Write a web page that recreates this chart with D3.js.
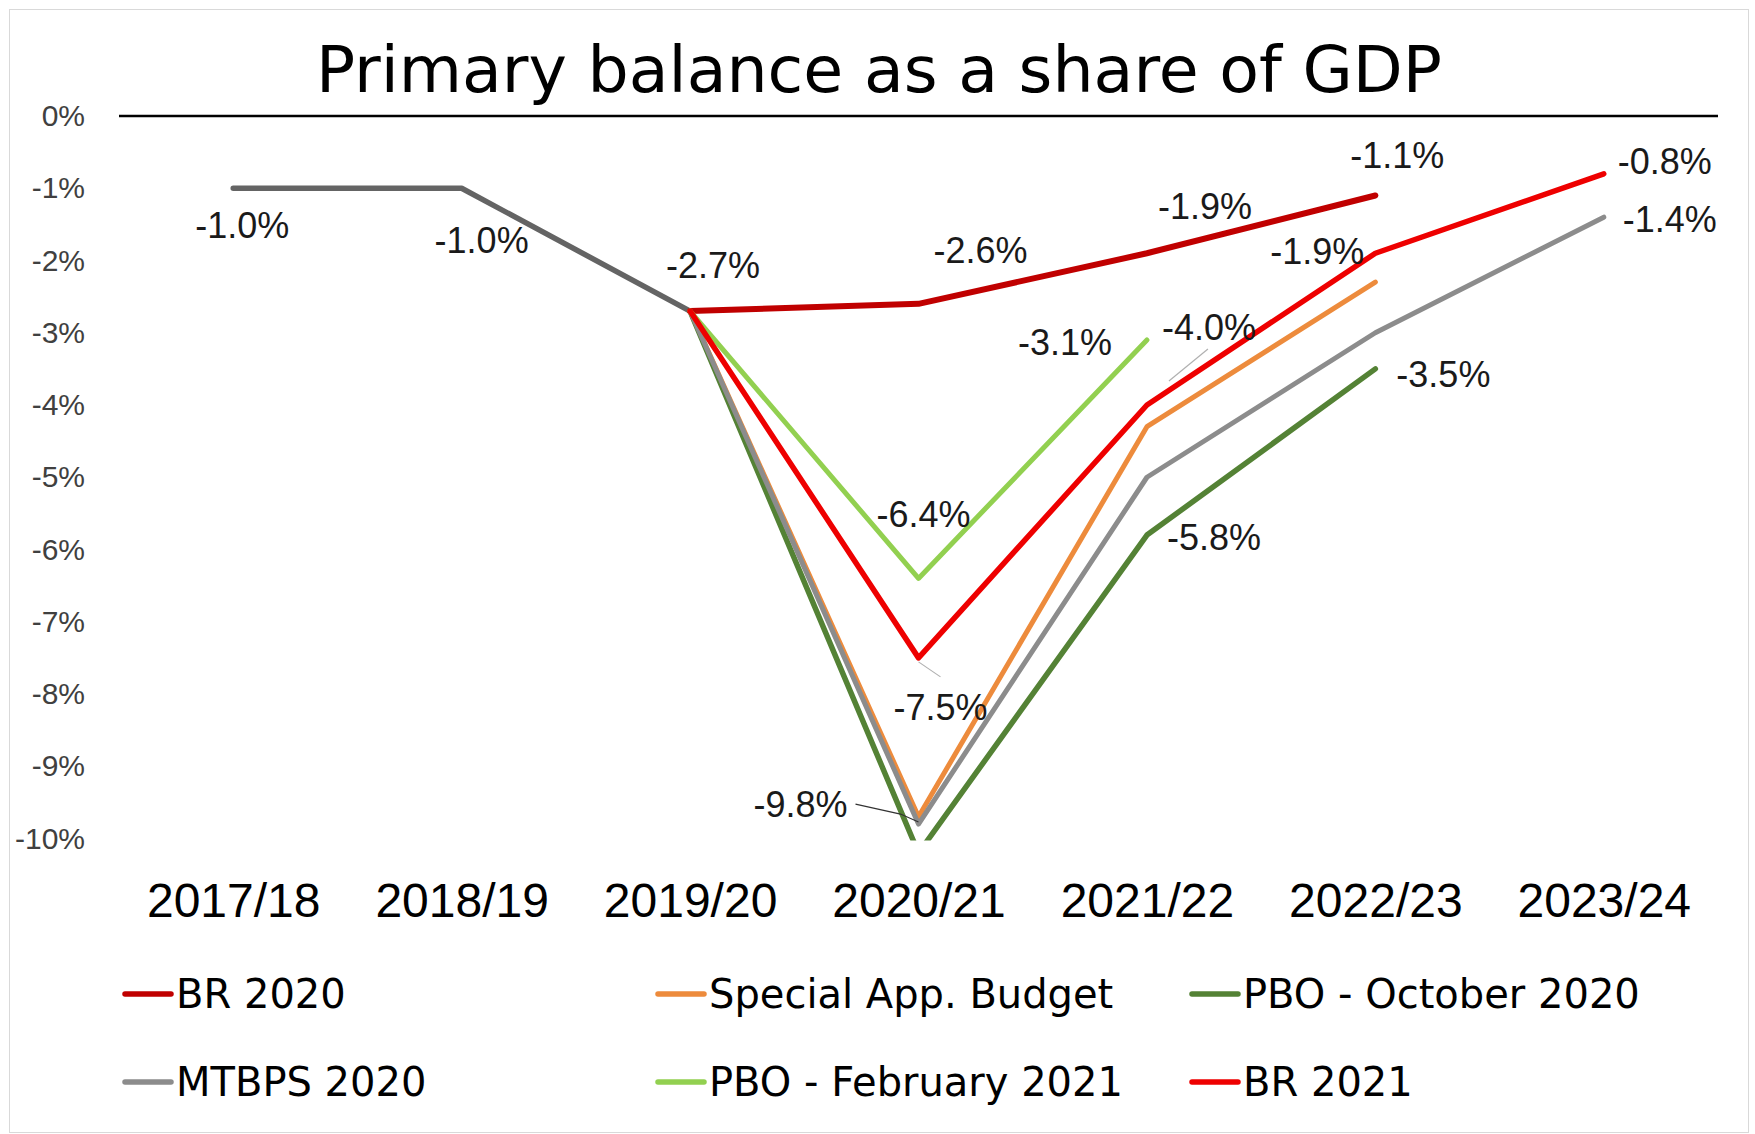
<!DOCTYPE html>
<html>
<head>
<meta charset="utf-8">
<script src="https://cdn.jsdelivr.net/npm/d3@7"></script>
<style>
  html, body { margin: 0; padding: 0; background: #fff; }
  svg { display: block; }
</style>
</head>
<body>
<svg id="chart" width="1755" height="1134"></svg>
<script>
// ---- data ----
const years = ["2017/18", "2018/19", "2019/20", "2020/21", "2021/22", "2022/23", "2023/24"];
const yTicks = [0, -1, -2, -3, -4, -5, -6, -7, -8, -9, -10];

// outturn years shared by every vintage
const outturn          = [-1.0, -1.0, -2.7, null, null, null, null];
const br2020           = [null, null, -2.7, -2.6, -1.9, -1.1, null];
const specialAppBudget = [null, null, -2.7, -9.7, -4.3, -2.3, null];
const pboOct2020       = [null, null, -2.7, -10.2, -5.8, -3.5, null];
const mtbps2020        = [null, null, -2.7, -9.8, -5.0, -3.0, -1.4];
const pboFeb2021       = [null, null, -2.7, -6.4, -3.1, null, null];
const br2021           = [null, null, -2.7, -7.5, -4.0, -1.9, -0.8];

const seriesNames = ["BR 2020", "Special App. Budget", "PBO - October 2020",
                     "MTBPS 2020", "PBO - February 2021", "BR 2021"];
const seriesValues = [br2020, specialAppBudget, pboOct2020, mtbps2020, pboFeb2021, br2021];

// ---- styling ----
const seriesColors = ["#C00000", "#ED8B3C", "#548235", "#8C8C8C", "#92D050", "#EE0000"];
const seriesWidths = [6, 5, 5.5, 5, 5, 5.5];
const outturnColor = "#646464";

// data-label placement: [values array, year index, dx, dy, anchor, leader]
const labelSpecs = [
  [outturn, 0, 9, 50, "middle"],
  [outturn, 1, 20, 65, "middle"],
  [outturn, 2, 23, -33, "middle"],
  [br2020, 3, 62, -41, "middle"],
  [br2020, 4, 58, -34, "middle"],
  [br2020, 5, 22, -27, "middle"],
  [br2021, 6, 14, 0, "start"],
  [mtbps2020, 6, 19, 15, "start"],
  [br2021, 5, -58, 11, "middle"],
  [br2021, 4, 62, -65, "middle", {x1: 61, y1: -56, x2: 22, y2: -24, color: "#b0b0b0"}],
  [pboFeb2021, 4, -82, 15, "middle"],
  [pboOct2020, 5, 21, 18, "start"],
  [pboFeb2021, 3, 5, -51, "middle"],
  [pboOct2020, 4, 67, 15, "middle"],
  [br2021, 3, 22, 62, "middle", {x1: 0, y1: 4, x2: 22, y2: 19, color: "#b0b0b0"}],
  [mtbps2020, 3, -71, -7, "end", {x1: -63, y1: -20, x2: 0, y2: -2, color: "#333333", mid: {x: -18, y: -10}}]
];

// ---- layout ----
const W = 1755, H = 1134;
const svg = d3.select("#chart");
const numFont = "'Liberation Sans', Arial, sans-serif";
const wordFont = "'DejaVu Sans', 'Liberation Sans', sans-serif";

const x = d3.scalePoint().domain(years).range([119, 1718]).padding(0.5);
const y = d3.scaleLinear().domain([-10, 0]).range([838.5, 116]);

// plain hyphen-minus, as in the printed figures
const pct = v => v.toFixed(1) + "%";

svg.append("rect").attr("width", W).attr("height", H).attr("fill", "#fff");
svg.append("rect")
  .attr("x", 9.5).attr("y", 9.5).attr("width", 1739).attr("height", 1123)
  .attr("fill", "none").attr("stroke", "#d9d9d9").attr("stroke-width", 1);

// title
svg.append("text")
  .attr("x", 879).attr("y", 92)
  .attr("text-anchor", "middle")
  .attr("font-family", wordFont)
  .attr("font-size", 64)
  .attr("fill", "#000")
  .attr("textLength", 1126)
  .attr("lengthAdjust", "spacingAndGlyphs")
  .text("Primary balance as a share of GDP");

// y axis (labels only)
const yAxis = svg.append("g")
  .attr("transform", "translate(85,0)")
  .call(d3.axisLeft(y).tickValues(yTicks).tickFormat(d => d + "%").tickSize(0).tickPadding(0));
yAxis.select(".domain").remove();
yAxis.selectAll("text")
  .attr("font-family", numFont)
  .attr("font-size", 30)
  .attr("fill", "#404040");

// x axis (labels only)
const xAxis = svg.append("g")
  .attr("transform", "translate(0,917)")
  .call(d3.axisBottom(x).tickSize(0).tickPadding(0));
xAxis.select(".domain").remove();
xAxis.selectAll("text")
  .attr("font-family", numFont)
  .attr("font-size", 48)
  .attr("fill", "#000")
  .attr("dy", 0);

// zero line
svg.append("line")
  .attr("x1", x.range()[0]).attr("x2", x.range()[1])
  .attr("y1", y(0)).attr("y2", y(0))
  .attr("stroke", "#000").attr("stroke-width", 2.5);

// plot clip (values below the axis minimum are cut off)
svg.append("clipPath").attr("id", "plotClip")
  .append("rect").attr("x", 0).attr("y", y(0) - 30).attr("width", W).attr("height", y(-10) - y(0) + 32);

const line = d3.line()
  .defined(d => d != null)
  .x((d, i) => x(years[i]))
  .y(d => y(d));

const plot = svg.append("g").attr("clip-path", "url(#plotClip)");

plot.append("path")
  .attr("d", line(outturn))
  .attr("fill", "none")
  .attr("stroke", outturnColor)
  .attr("stroke-width", 5.5)
  .attr("stroke-linejoin", "round")
  .attr("stroke-linecap", "round");

seriesValues.forEach((vals, k) => {
  plot.append("path")
    .attr("d", line(vals))
    .attr("fill", "none")
    .attr("stroke", seriesColors[k])
    .attr("stroke-width", seriesWidths[k])
    .attr("stroke-linejoin", "round")
    .attr("stroke-linecap", "round");
});

// data labels
labelSpecs.forEach(([vals, i, dx, dy, anchor, leader]) => {
  const v = vals[i];
  const px = x(years[i]), py = y(v);
  if (leader) {
    const pts = [[px + leader.x1, py + leader.y1]];
    if (leader.mid) pts.push([px + leader.mid.x, py + leader.mid.y]);
    pts.push([px + leader.x2, py + leader.y2]);
    svg.append("path")
      .attr("d", d3.line()(pts))
      .attr("fill", "none")
      .attr("stroke", leader.color)
      .attr("stroke-width", 1.2);
  }
  svg.append("text")
    .attr("x", px + dx).attr("y", py + dy)
    .attr("text-anchor", anchor)
    .attr("font-family", numFont)
    .attr("font-size", 36)
    .attr("fill", "#1a1a1a")
    .text(pct(v));
});

// legend
const legendCols = [123, 656, 1190];
const legendRows = [994, 1082];
seriesNames.forEach((name, k) => {
  const lx = legendCols[k % 3], ly = legendRows[Math.floor(k / 3)];
  const g = svg.append("g").attr("transform", `translate(${lx},${ly})`);
  g.append("line")
    .attr("x1", 2).attr("x2", 48).attr("y1", 0).attr("y2", 0)
    .attr("stroke", seriesColors[k]).attr("stroke-width", 5.5)
    .attr("stroke-linecap", "round");
  g.append("text")
    .attr("x", 53).attr("y", 0).attr("dy", "0.36em")
    .attr("font-family", wordFont)
    .attr("font-size", 40)
    .attr("fill", "#000")
    .text(name);
});
</script>
</body>
</html>
